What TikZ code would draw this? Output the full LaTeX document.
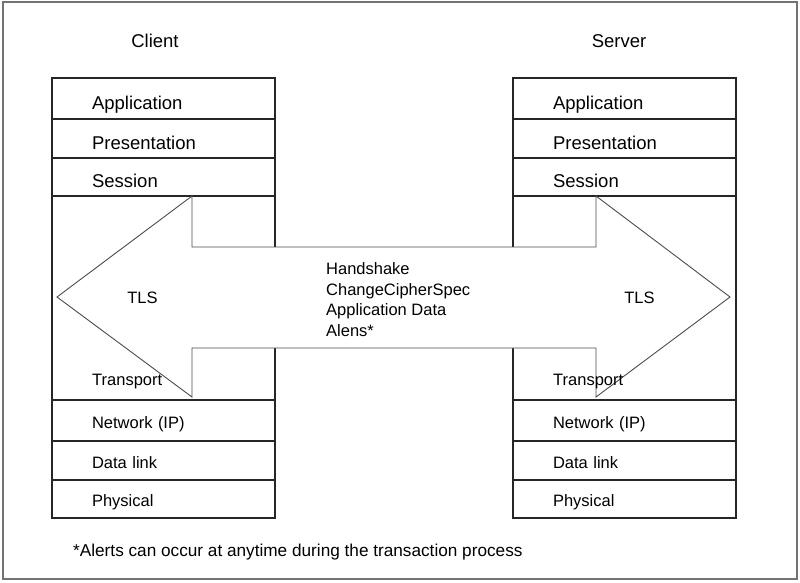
\documentclass[tikz,border=0pt]{standalone}
\usepackage{fontspec}
\setmainfont{Liberation Sans}
\usetikzlibrary{positioning}

\begin{document}
\begin{tikzpicture}[
  x=1pt, y=-1pt,
  layer/.style={draw=black!85, line width=1.2pt, outer sep=0pt, minimum width=223pt, text width=143pt, inner xsep=40pt, inner ysep=0pt, align=left},
  upper/.style={layer, font=\fontsize{18.5}{22}\selectfont, text height=21pt, text depth=0pt},
  lower/.style={layer, font=\fontsize{16.5}{20}\selectfont, text height=15.5pt, text depth=0pt},
  head/.style={font=\fontsize{18.5}{22}\selectfont},
  lab/.style={font=\fontsize{16.5}{20.4}\selectfont, align=left, inner sep=0pt},
  tls/.style={draw=black!70, line width=0.9pt, fill=white}
]
\useasboundingbox (0,0) rectangle (800,582);
\draw[black!55, line width=2pt] (3,2) rectangle (797,579);

\node[head] (client) at (155,41) {Client};
\node[head] (server) at (619,41) {Server};

% client stack
\node[upper, minimum height=41pt, anchor=north west] (capp) at (52,78) {Application};
\node[upper, minimum height=39pt, below=0pt of capp] (cpres) {Presentation};
\node[upper, minimum height=38pt, below=0pt of cpres] (csess) {Session};
\node[layer, minimum height=204pt, below=0pt of csess] (ctrans) {};
\node[lower, minimum height=41pt, below=0pt of ctrans] (cnet) {Network (IP)};
\node[lower, minimum height=39pt, below=0pt of cnet] (clink) {Data link};
\node[lower, minimum height=38pt, below=0pt of clink] (cphys) {Physical};

% server stack
\node[upper, minimum height=41pt, anchor=north west] (sapp) at (513,78) {Application};
\node[upper, minimum height=39pt, below=0pt of sapp] (spres) {Presentation};
\node[upper, minimum height=38pt, below=0pt of spres] (ssess) {Session};
\node[layer, minimum height=204pt, below=0pt of ssess] (strans) {};
\node[lower, minimum height=41pt, below=0pt of strans] (snet) {Network (IP)};
\node[lower, minimum height=39pt, below=0pt of snet] (slink) {Data link};
\node[lower, minimum height=38pt, below=0pt of slink] (sphys) {Physical};

% double arrow across the stacks
\draw[tls] (57,297) -- (192,196) -- (192,247) -- (596,247) -- (596,196) -- (730,297)
  -- (596,397) -- (596,348) -- (192,348) -- (192,397) -- cycle;

\node[lab] (ctls) at (142.5,298) {TLS};
\node[lab] (stls) at (639.5,298) {TLS};
\node[lab, anchor=west] (ctranslab) at (92,382) {Transport};
\node[lab, anchor=west] (stranslab) at (553,382) {Transport};
\node[lab, anchor=west] (msgs) at (326,299.5) {Handshake\\ChangeCipherSpec\\Application Data\\Alens*};

\node[lab, anchor=west, font=\fontsize{17.2}{20.4}\selectfont] (note) at (73,552) {*Alerts can occur at anytime during the transaction process};
\end{tikzpicture}
\end{document}
